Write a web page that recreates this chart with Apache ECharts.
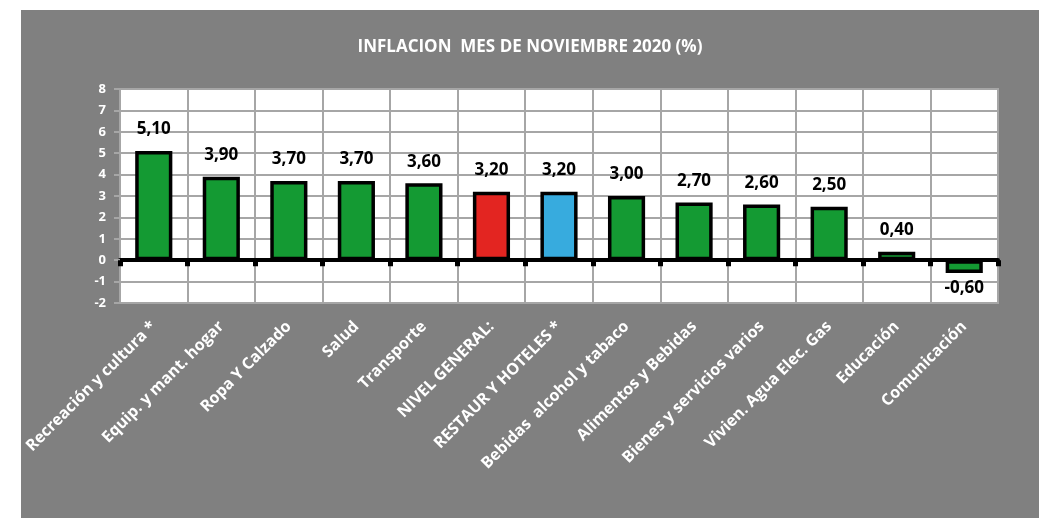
<!DOCTYPE html>
<html>
<head>
<meta charset="utf-8">
<script src="https://cdn.jsdelivr.net/npm/echarts@6/dist/echarts.min.js"></script>
<style>
html,body{margin:0;padding:0;background:#fff;width:1039px;height:518px;overflow:hidden;}
#c{position:absolute;left:21px;top:10px;width:1018px;height:508px;}
</style>
</head>
<body>
<div id="c"></div>
<script>
const categories = ["Recreación y cultura *","Equip. y mant. hogar","Ropa Y Calzado","Salud","Transporte","NIVEL GENERAL:","RESTAUR Y HOTELES *","Bebidas  alcohol y tabaco","Alimentos y Bebidas","Bienes y servicios varios","Vivien. Agua Elec. Gas","Educación","Comunicación"];
const values = [5.10,3.90,3.70,3.70,3.60,3.20,3.20,3.00,2.70,2.60,2.50,0.40,-0.60];
const barColors = ["#149a33","#149a33","#149a33","#149a33","#149a33","#e32521","#37abde","#149a33","#149a33","#149a33","#149a33","#149a33","#149a33"];
const titleText = "INFLACION  MES DE NOVIEMBRE 2020 (%)";
const yMin = -2, yMax = 8, yStep = 1;

const font = "'Open Sans', 'Liberation Sans', sans-serif";
const chart = echarts.init(document.getElementById('c'), null, {renderer:'canvas'});
const data = values.map((v,i)=>({
  value:v,
  itemStyle:{color:barColors[i]},
  label:{position: v<0 ? 'bottom' : 'top', distance: v<0 ? 7 : 13}
}));
chart.setOption({
  backgroundColor:'#808080',
  animation:false,
  title:{
    text:titleText, left:'center', top:24,
    textStyle:{color:'#fff', fontWeight:'bold', fontSize:17, fontFamily:font}
  },
  grid:{left:99, right:41, top:79, bottom:215, show:true, backgroundColor:'#fff', borderColor:'#a6a6a6', borderWidth:2},
  xAxis:[{
    type:'category', data:categories, position:'bottom',
    axisLine:{show:false, onZero:false},
    axisTick:{show:false},
    splitLine:{show:true, interval:0, lineStyle:{color:'#a6a6a6', width:2}},
    axisLabel:{rotate:45, interval:0, color:'#fff', fontWeight:'bold', fontSize:16, fontFamily:font, margin:21}
  },{
    type:'category', data:categories, position:'top',
    axisLine:{show:true, onZero:true, lineStyle:{color:'#000', width:4}},
    axisTick:{show:true, interval:0, inside:true, length:6, lineStyle:{color:'#000', width:5}},
    axisLabel:{show:false},
    splitLine:{show:false}
  }],
  yAxis:{
    type:'value', min:yMin, max:yMax, interval:yStep,
    axisLine:{show:false},
    axisTick:{show:true, length:6, lineStyle:{color:'#a6a6a6', width:2}},
    splitLine:{show:true, lineStyle:{color:'#a6a6a6', width:2}},
    axisLabel:{color:'#fff', fontWeight:'bold', fontSize:13, fontFamily:font, margin:14}
  },
  series:[{
    type:'bar', xAxisIndex:0, data:data, barWidth:'55%',
    itemStyle:{borderColor:'#000', borderWidth:3.5},
    label:{show:true, color:'#000', fontWeight:'bold', fontSize:17, fontFamily:font,
      formatter:p=>p.value.toFixed(2).replace('.',',')},
    z:3
  }]
});
</script>
</body>
</html>
